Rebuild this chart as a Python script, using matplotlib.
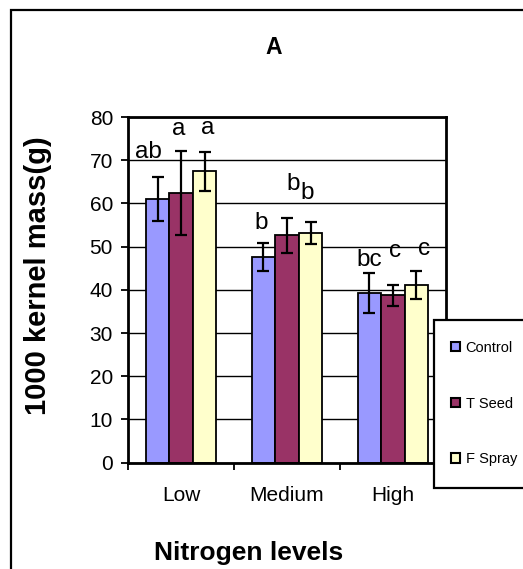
import matplotlib
matplotlib.use("Agg")
import matplotlib.pyplot as plt
from matplotlib.patches import Rectangle, Patch
import numpy as np

plt.rcParams['font.family'] = ['Liberation Sans', 'DejaVu Sans']

categories = ["Low", "Medium", "High"]
series = ["Control", "T Seed", "F Spray"]
colors = ["#9999FF", "#993366", "#FFFFCC"]

control = [61.0, 47.6, 39.2]
t_seed = [62.4, 52.6, 38.7]
f_spray = [67.4, 53.1, 41.1]

control_err = [5.0, 3.3, 4.6]
t_seed_err = [9.7, 4.0, 2.5]
f_spray_err = [4.6, 2.6, 3.3]

# significance letters per group (Control, T Seed, F Spray) and their heights
letters = [["ab", "a", "a"], ["b", "b", "b"], ["bc", "c", "c"]]
letter_y = [[72.0, 77.2, 77.5], [55.5, 64.5, 62.5], [46.9, 49.0, 49.5]]
letter_dx = [[-0.09, -0.02, 0.03], [-0.02, 0.06, -0.03], [0.0, 0.02, 0.07]]

W, H = 523, 569
fig = plt.figure(figsize=(W / 100, H / 100), dpi=100)
ax = fig.add_axes([128.3 / W, 1 - 462.7 / H, (445.7 - 128.3) / W, (462.7 - 117) / H])

values = [control, t_seed, f_spray]
errs = [control_err, t_seed_err, f_spray_err]
x = np.arange(len(categories))
bw = 1 / 4.5
offsets = [-bw, 0, bw]

ax.set_axisbelow(True)
ax.yaxis.grid(True, color="black", lw=1.0)

for i in range(3):
    ax.bar(x + offsets[i], values[i], width=bw, color=colors[i], edgecolor="black",
           lw=1.3, zorder=2, label=series[i])
    ax.errorbar(x + offsets[i], values[i], yerr=errs[i], fmt="none", ecolor="black",
                elinewidth=1.6, capsize=4.3, capthick=1.6, zorder=3)

for g in range(3):
    for i in range(3):
        ax.text(x[g] + offsets[i] + letter_dx[g][i], letter_y[g][i], letters[g][i],
                ha="center", va="center", fontsize=17.5, zorder=4)

ax.set_xlim(-0.5, 2.5)
ax.set_ylim(0, 80)
ax.set_yticks(np.arange(0, 81, 10))
ax.tick_params(axis="y", direction="out", length=5, width=1.3, labelsize=15, pad=6)
ax.set_xticks(x)
ax.set_xticklabels(categories)
ax.set_xticks(np.arange(-0.5, 2.6, 1.0), minor=True)
ax.tick_params(axis="x", which="major", length=0, labelsize=15, pad=17)
ax.tick_params(axis="x", which="minor", direction="out", length=5, width=1.3)
for s in ax.spines.values():
    s.set_linewidth(2)
    s.set_color("black")

fig.text(274 / W, 1 - 48 / H, "A", ha="center", va="center", fontsize=16.5, fontweight="bold")
fig.text(38 / W, 1 - 275.5 / H, "1000 kernel mass(g)", rotation=90, ha="center",
         va="center", fontsize=21, fontweight="bold")
fig.text(249 / W, 1 - 553 / H, "Nitrogen levels", ha="center", va="center",
         fontsize=19, fontweight="bold")

# outer chart frame
fig.patches.append(Rectangle((10.5 / W, -0.1), 1.2, 1 - 9.5 / H + 0.1, transform=fig.transFigure,
                             fill=False, edgecolor="black", lw=1.6, clip_on=False))
# legend frame
fig.patches.append(Rectangle((433.5 / W, 1 - 488 / H), 0.5, (488 - 320) / H,
                             transform=fig.transFigure, facecolor="white",
                             edgecolor="black", lw=1.6, zorder=5, clip_on=False))
handles = [Patch(facecolor=c, edgecolor="black", lw=1.5) for c in colors]
leg = fig.legend(handles, series, loc="upper left", bbox_to_anchor=(451 / W, 1 - 341 / H),
                 frameon=False, fontsize=10.5, handlelength=0.6, handleheight=0.6,
                 handletextpad=0.4, labelspacing=2.85, borderpad=0, borderaxespad=0)
leg.set_zorder(6)

fig.savefig("out.png", dpi=100)
